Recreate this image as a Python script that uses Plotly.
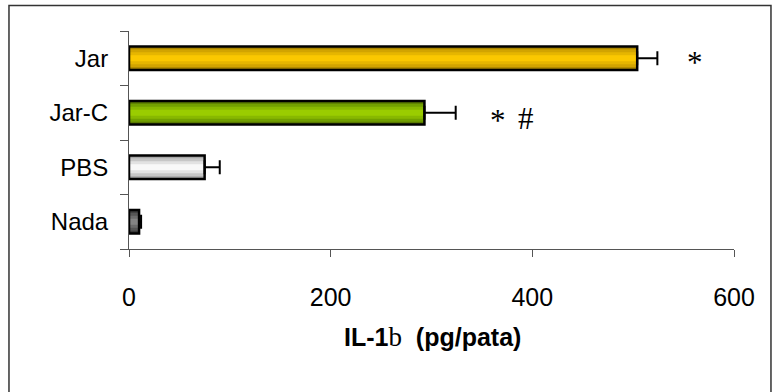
import plotly.graph_objects as go

# Data
categories = ["Nada", "PBS", "Jar-C", "Jar"]
values = [10, 75, 293, 504]
errors = [2, 15, 31, 20]

# Significance marks: (text, x value, category)
marks_text = ["*", "*", "#"]
marks_x = [561, 366, 394]
marks_cat = ["Jar", "Jar-C", "Jar-C"]

# Striped fill: outer to inner shades per bar
stripe_widths = [0.43, 0.33, 0.22, 0.11]
stripe_colors = {
    "Nada": ["#3a3a3a", "#555555", "#6c6c6c", "#848484"],
    "PBS": ["#a6a6a6", "#c6c6c6", "#e2e2e2", "#f8f8f8"],
    "Jar-C": ["#5a7a00", "#72a000", "#88b800", "#9acc00"],
    "Jar": ["#a88400", "#d2a400", "#e6b600", "#fbc800"],
}

W, H = 774, 392
L, R, T, B = 128.6, 40, 31, 143.3
pw, ph = W - L - R, H - T - B

fig = go.Figure()

for level, bw in enumerate(stripe_widths):
    fig.add_trace(go.Bar(
        y=categories, x=values, orientation="h", width=bw,
        marker=dict(color=[stripe_colors[c][level] for c in categories],
                    line=dict(width=0)),
        hoverinfo="skip", showlegend=False,
    ))

# Outline and error bars on top
fig.add_trace(go.Bar(
    y=categories, x=values, orientation="h", width=stripe_widths[0],
    marker=dict(color="rgba(0,0,0,0)", line=dict(color="black", width=2.5)),
    error_x=dict(type="data", array=errors, arrayminus=[0] * len(errors),
                 symmetric=False, color="black", thickness=2, width=7),
    showlegend=False,
))

for t, xv, c in zip(marks_text, marks_x, marks_cat):
    fig.add_annotation(x=xv, y=c, xref="x", yref="y", text=t, showarrow=False,
                       xanchor="center", yanchor="middle",
                       yshift=-4 if c == "Jar" else (-8 if t == "*" else -6),
                       font=dict(family="Liberation Serif", size=31, color="black"))

# Axis title
fig.add_annotation(
    x=(432 - L) / pw, y=(T + ph - 337) / ph, xref="paper", yref="paper",
    text="<b>IL-1</b><span style='font-family:Liberation Serif;font-weight:normal;font-size:27px'>b</span><b>  (pg/pata)</b>",
    showarrow=False, xanchor="center", yanchor="middle",
    font=dict(family="Liberation Sans", size=25, color="black"),
)

# Outer frame
fig.add_shape(type="rect", xref="paper", yref="paper",
              x0=(8.5 - L) / pw, x1=(771 - L) / pw,
              y0=(T + ph - 400) / ph, y1=(T + ph - 5.5) / ph,
              line=dict(color="#333333", width=1.5), fillcolor="rgba(0,0,0,0)")

fig.update_layout(
    width=W, height=H, barmode="overlay",
    margin=dict(l=L, r=R, t=T, b=B, pad=0),
    paper_bgcolor="white", plot_bgcolor="white",
    font=dict(family="Liberation Sans", size=24, color="black"),
    xaxis=dict(range=[0, 600], tickvals=[0, 200, 400, 600], ticks="outside",
               ticklen=7, tickcolor="#555555", showline=True, linecolor="#555555",
               linewidth=1, showgrid=False, zeroline=False, ticklabelstandoff=19,
               tickfont=dict(size=25)),
    yaxis=dict(categoryorder="array", categoryarray=categories, range=[-0.5, 3.5],
               ticks="outside", tickson="boundaries", ticklen=8, tickcolor="#555555",
               showline=True, linecolor="#555555", linewidth=1, showgrid=False,
               zeroline=False, ticklabelstandoff=15, tickfont=dict(size=24)),
)

fig.write_html("out.html")
